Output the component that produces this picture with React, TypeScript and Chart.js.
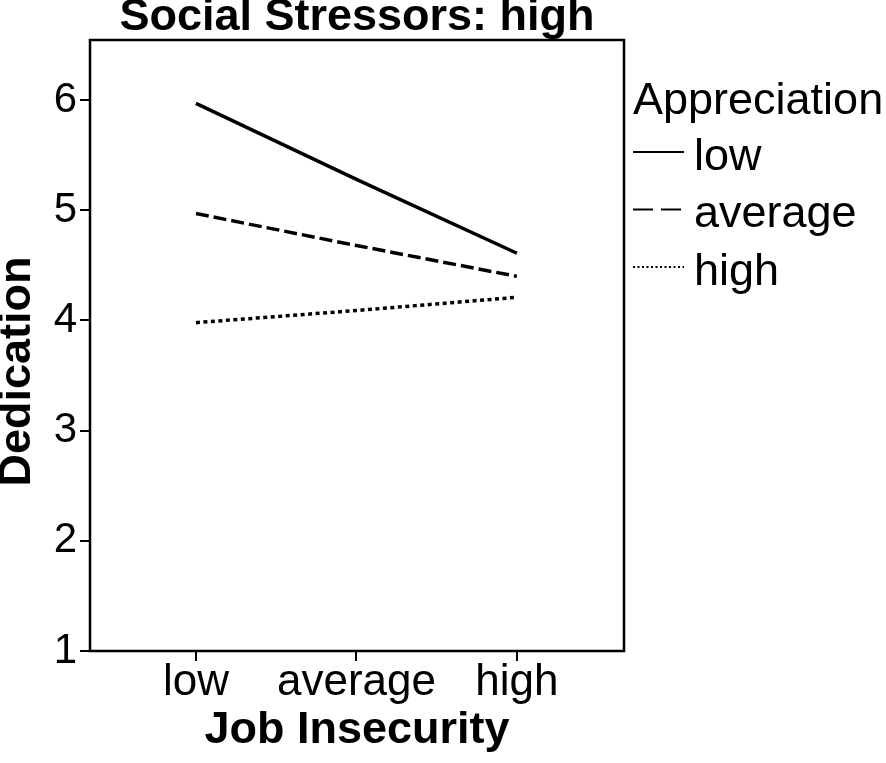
import React, { useEffect, useRef } from "react";
import { Chart, ChartConfiguration, Plugin } from "chart.js/auto";

// valeurs
const chartTitle = "Social Stressors: high";
const xAxisTitle = "Job Insecurity";
const yAxisTitle = "Dedication";
const legendTitle = "Appreciation";
const categories = ["low", "average", "high"];
const yTicks = [1, 2, 3, 4, 5, 6];
const seriesLabels = ["low", "average", "high"];
const lowAppreciation = [5.97, 5.28, 4.61];
const averageAppreciation = [4.97, 4.68, 4.4];
const highAppreciation = [3.98, 4.09, 4.21];

const FONT = '"Liberation Sans", Arial, Helvetica, sans-serif';
const plotDashes: number[][] = [[], [13, 5], [4, 3.5]];
const legendDashes: number[][] = [[], [20, 8], [2, 2.5]];

// cadre + titre vertical + légende à droite
const sidePlugin: Plugin<"line"> = {
  id: "sideStuff",
  afterDraw(chart) {
    const { ctx, chartArea } = chart;
    ctx.save();
    ctx.strokeStyle = "#000";
    ctx.lineWidth = 2.5;
    ctx.strokeRect(chartArea.left, chartArea.top, chartArea.width, chartArea.height);

    // titre de l'axe y
    ctx.fillStyle = "#000";
    ctx.font = `bold 45px ${FONT}`;
    ctx.textAlign = "center";
    ctx.textBaseline = "middle";
    ctx.translate(18, (chartArea.top + chartArea.bottom) / 2 + 26);
    ctx.rotate(-Math.PI / 2);
    ctx.fillText(yAxisTitle, 0, 0);
    ctx.restore();

    // légende
    ctx.save();
    const x0 = chartArea.right + 9;
    ctx.fillStyle = "#000";
    ctx.strokeStyle = "#000";
    ctx.font = `45px ${FONT}`;
    ctx.textAlign = "left";
    ctx.textBaseline = "alphabetic";
    ctx.fillText(legendTitle, x0, chartArea.top + 74);
    chart.data.datasets.forEach((ds, i) => {
      const y = chartArea.top + 112 + i * 57.5;
      ctx.lineWidth = 2;
      ctx.setLineDash(legendDashes[i]);
      ctx.beginPath();
      ctx.moveTo(x0, y);
      ctx.lineTo(x0 + 51, y);
      ctx.stroke();
      ctx.setLineDash([]);
      ctx.fillText(String(ds.label), x0 + 61, y + 17.5);
    });
    ctx.restore();
  },
};

const App: React.FC = () => {
  const chartRef = useRef<HTMLCanvasElement | null>(null);
  const chartInstanceRef = useRef<Chart<"line"> | null>(null);

  useEffect(() => {
    const series = [lowAppreciation, averageAppreciation, highAppreciation];

    const config: ChartConfiguration<"line"> = {
      type: "line",
      data: {
        datasets: series.map((values, i) => ({
          label: seriesLabels[i],
          data: values.map((v, j) => ({ x: j, y: v })),
          borderColor: "#000",
          borderWidth: 3.5,
          borderDash: plotDashes[i],
          borderCapStyle: "butt",
          pointRadius: 0,
          fill: false,
          tension: 0,
        })),
      },
      options: {
        animation: false,
        responsive: true,
        maintainAspectRatio: false,
        layout: { padding: { left: 0, right: 262, top: 0, bottom: 0 } },
        plugins: {
          legend: { display: false },
          tooltip: { enabled: false },
          title: {
            display: true,
            text: chartTitle,
            fullSize: false,
            color: "#000",
            font: { family: FONT, size: 45, weight: "bold", lineHeight: "36px" },
            padding: { top: 0, bottom: 4 },
          },
        },
        scales: {
          x: {
            type: "linear",
            min: -0.66,
            max: 2.667,
            afterBuildTicks: (scale) => {
              scale.ticks = categories.map((_, i) => ({ value: i }));
            },
            afterFit: (scale) => {
              scale.height = 112;
            },
            ticks: {
              callback: (value) => categories[Number(value)],
              color: "#000",
              font: { family: FONT, size: 44, lineHeight: 1 },
              padding: 0,
              autoSkip: false,
              maxRotation: 0,
            },
            grid: { drawOnChartArea: false, color: "#000", lineWidth: 2, tickLength: 10 },
            border: { display: false },
            title: {
              display: true,
              text: xAxisTitle,
              color: "#000",
              font: { family: FONT, size: 45, weight: "bold", lineHeight: 1.2 },
              padding: { top: 0, bottom: 5 },
            },
          },
          y: {
            type: "linear",
            min: 1,
            max: 6.545,
            afterBuildTicks: (scale) => {
              scale.ticks = yTicks.map((v) => ({ value: v }));
            },
            afterFit: (scale) => {
              scale.width = 90;
            },
            ticks: {
              color: "#000",
              font: { family: FONT, size: 42 },
              padding: 3,
            },
            grid: { drawOnChartArea: false, color: "#000", lineWidth: 2, tickLength: 10 },
            border: { display: false },
          },
        },
      },
      plugins: [sidePlugin],
    };

    const ctx = chartRef.current?.getContext("2d");
    if (ctx) {
      if (chartInstanceRef.current) {
        chartInstanceRef.current.destroy();
      }
      chartInstanceRef.current = new Chart(ctx, config);
    }

    return () => {
      if (chartInstanceRef.current) {
        chartInstanceRef.current.destroy();
        chartInstanceRef.current = null;
      }
    };
  }, []);

  return (
    <div style={{ position: "absolute", left: 0, top: 0, width: 886, height: 763, background: "#fff" }}>
      <canvas ref={chartRef}></canvas>
    </div>
  );
};

export default App;
